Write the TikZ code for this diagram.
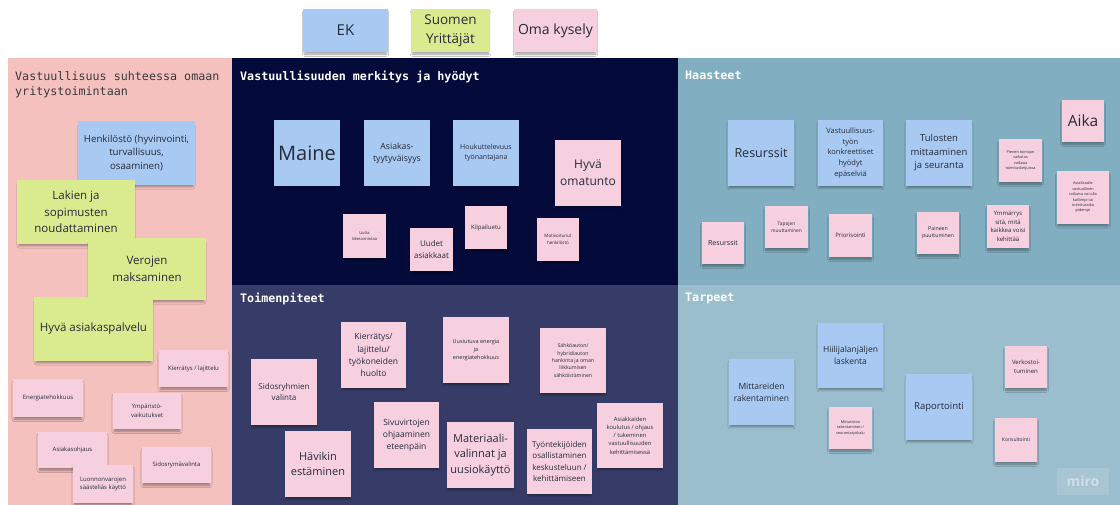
\documentclass[tikz,border=0pt]{standalone}
\usepackage{fontspec}
\usetikzlibrary{shadows.blur}
\newfontfamily\notefont{Open Sans}
\newfontfamily\titlefont{DejaVu Sans Mono}

\definecolor{panelpink}{HTML}{F4C1BF}
\definecolor{navytop}{HTML}{040B3B}
\definecolor{navybot}{HTML}{363C67}
\definecolor{tealtop}{HTML}{81AEC0}
\definecolor{tealbot}{HTML}{9BBECE}
\definecolor{noteblue}{HTML}{A7C9F2}
\definecolor{notegreen}{HTML}{D9EA8F}
\definecolor{notepink}{HTML}{F6D0DF}
\definecolor{notetext}{HTML}{262B3A}
\definecolor{titledark}{HTML}{3A3A3A}

\tikzset{
  stickynote/.style={rectangle, inner sep=1pt, align=center, text=notetext,
    blur shadow={shadow xshift=0pt, shadow yshift=-3pt, shadow opacity=40,
      shadow blur radius=2.5pt, shadow blur steps=6, shadow scale=0.96}},
  frametitle/.style={anchor=north west, inner sep=0pt, align=left,
    font={\titlefont\fontsize{11.7pt}{15pt}\selectfont}},
  whitetitle/.style={frametitle, text=white,
    font={\titlefont\bfseries\fontsize{11.7pt}{15pt}\selectfont}},
}

% \sticky{name}{colour}{x1}{y1}{x2}{y2}{font size}{text}
\newcommand\sticky[8]{%
  \node[stickynote, fill=#2,
    minimum width={(#5-#3)*1pt}, minimum height={(#6-#4)*1pt},
    font={\notefont\fontsize{#7pt}{\fpeval{#7*1.42}pt}\selectfont}]
    (#1) at ({(#3+#5)/2},{(#4+#6)/2}) {#8};}

\begin{document}
\begin{tikzpicture}[x=1pt, y=-1pt]
\useasboundingbox (0,0) rectangle (1120,505);
\fill[white] (0,0) rectangle (1120,505);

% frames
\fill[panelpink] (8,58) rectangle (232,505);
\fill[navytop] (232,58) rectangle (678,285);
\fill[navybot] (232,285) rectangle (678,505);
\fill[tealtop] (678,58) rectangle (1120,285);
\fill[tealbot] (678,285) rectangle (1120,505);

% frame titles
\node[frametitle, text=titledark] (tOwn) at (15,71) {Vastuullisuus suhteessa omaan\\yritystoimintaan};
\node[whitetitle] (tMerk) at (240,71) {Vastuullisuuden merkitys ja hyödyt};
\node[whitetitle] (tHaas) at (685,71) {Haasteet};
\node[whitetitle] (tToim) at (240,293) {Toimenpiteet};
\node[whitetitle] (tTarp) at (685,293) {Tarpeet};

% legend
\sticky{legEK}{noteblue}{303}{9}{388}{52}{15}{EK}
\sticky{legSY}{notegreen}{411}{9}{490}{52}{13.5}{Suomen\\Yrittäjät}
\sticky{legOma}{notepink}{514}{9}{597}{52}{14}{Oma kysely}

% own business
\sticky{henk}{noteblue}{78}{121}{195}{185}{9.7}{Henkilöstö (hyvinvointi,\\turvallisuus,\\osaaminen)}
\sticky{lakien}{notegreen}{17}{180}{135}{244}{11.5}{Lakien ja\\sopimusten\\noudattaminen}
\sticky{verojen}{notegreen}{88}{238}{206}{300}{11.5}{Verojen\\maksaminen}
\sticky{hyva}{notegreen}{34}{297}{153}{361}{11.5}{Hyvä asiakaspalvelu}
\sticky{kierL}{notepink}{159}{350}{228}{387}{6}{Kierrätys / lajittelu}
\sticky{energia}{notepink}{13}{379}{83}{417}{6}{Energiatehokkuus}
\sticky{ymparisto}{notepink}{113}{393}{181}{429}{6}{Ympäristö-\\vaikutukset}
\sticky{asiakasohj}{notepink}{38}{432}{107}{468}{6}{Asiakasohjaus}
\sticky{sidosvalinta}{notepink}{142}{447}{211}{483}{6}{Sidosrymävalinta}
\sticky{luonnon}{notepink}{73}{465}{133}{503}{6}{Luonnonvarojen\\säästeliäs käyttö}

% meaning and benefits
\sticky{maine}{noteblue}{274}{120}{340}{186}{20}{Maine}
\sticky{asiakastyyt}{noteblue}{364}{120}{430}{186}{8.7}{Asiakas-\\tyytyväisyys}
\sticky{houkutt}{noteblue}{453}{120}{519}{186}{7}{Houkuttelevuus\\työnantajana}
\sticky{hyvaoma}{notepink}{555}{140}{621}{206}{12}{Hyvä\\omatunto}
\sticky{uutta}{notepink}{343}{214}{386}{258}{4}{Uutta\\liiketoimintaa}
\sticky{uudet}{notepink}{410}{228}{453}{271}{8}{Uudet\\asiakkaat}
\sticky{kilpailu}{notepink}{465}{206}{507}{249}{6}{Kilpailuetu}
\sticky{motiv}{notepink}{537}{218}{579}{261}{4.5}{Motivoitunut\\henkilöstö}

% actions
\sticky{kierM}{notepink}{341}{322}{406}{388}{8.5}{Kierrätys/\\lajittelu/\\työkoneiden\\huolto}
\sticky{sidosryhm}{notepink}{251}{359}{317}{425}{8}{Sidosryhmien\\valinta}
\sticky{sivuv}{notepink}{374}{402}{439}{468}{8.5}{Sivuvirtojen\\ohjaaminen\\eteenpäin}
\sticky{havikki}{notepink}{285}{431}{351}{497}{11}{Hävikin\\estäminen}
\sticky{uusiut}{notepink}{443}{317}{509}{383}{5.5}{Uusiutuva energia\\ja\\energiatehokkuus}
\sticky{sahko}{notepink}{540}{328}{606}{393}{5.2}{Sähköauton/\\hybridiauton\\hankinta ja oman\\liikkumisen\\sähköistäminen}
\sticky{materiaali}{notepink}{447}{422}{514}{488}{11}{Materiaali-\\valinnat ja\\uusiokäyttö}
\sticky{tyontek}{notepink}{527}{429}{592}{494}{8}{Työntekijöiden\\osallistaminen\\keskusteluun /\\kehittämiseen}
\sticky{asiakkaiden}{notepink}{597}{403}{663}{468}{5.8}{Asiakkaiden\\koulutus / ohjaus\\/ tukeminen\\vastuullisuuden\\kehittämisessä}

% challenges
\sticky{resB}{noteblue}{728}{120}{794}{186}{12.5}{Resurssit}
\sticky{vastuu}{noteblue}{818}{120}{883}{186}{7.5}{Vastuullisuus-\\työn\\konkreettiset\\hyödyt\\epäselviä}
\sticky{tulosten}{noteblue}{906}{120}{972}{186}{9.5}{Tulosten\\mittaaminen\\ja seuranta}
\sticky{pienen}{notepink}{999}{139}{1042}{182}{3.8}{Pienen toimijan\\vaikutus\\vaikeaa\\toimitusketjuissa}
\sticky{aika}{notepink}{1062}{100}{1104}{142}{15.5}{Aika}
\sticky{asiakkaalle}{notepink}{1057}{171}{1109}{224}{3.8}{Asiakkaalle\\vastuullinen\\ratkaisu voi olla\\kalliimpi tai\\toimitusaika\\pidempi}
\sticky{resP}{notepink}{702}{222}{744}{264}{7}{Resurssit}
\sticky{tapojen}{notepink}{765}{206}{808}{248}{4.8}{Tapojen\\muuttaminen}
\sticky{prior}{notepink}{829}{214}{872}{257}{6}{Priorisointi}
\sticky{paineen}{notepink}{917}{212}{959}{254}{5.2}{Paineen\\puuttuminen}
\sticky{ymmarrys}{notepink}{987}{205}{1029}{248}{6}{Ymmärrys\\sitä, mitä\\kaikkea voisi\\kehittää}

% needs
\sticky{mittareiden}{noteblue}{729}{359}{794}{425}{8.5}{Mittareiden\\rakentaminen}
\sticky{hiili}{noteblue}{818}{323}{883}{388}{8.5}{Hiilijalanjäljen\\laskenta}
\sticky{mittariston}{notepink}{829}{407}{872}{449}{3.8}{Mittariston\\rakentaminen /\\seurantatyökalu}
\sticky{raport}{noteblue}{906}{374}{972}{440}{9.5}{Raportointi}
\sticky{verkosto}{notepink}{1005}{346}{1047}{388}{6}{Verkostoi-\\tuminen}
\sticky{konsult}{notepink}{995}{418}{1037}{462}{5}{Konsultointi}

% board watermark
\node[rectangle, fill=white, fill opacity=0.12, text opacity=0.45, text=white,
  minimum width=52pt, minimum height=27pt, inner sep=0pt,
  font={\notefont\bfseries\fontsize{14pt}{16pt}\selectfont}] (miro) at (1083,481) {miro};
\end{tikzpicture}
\end{document}
